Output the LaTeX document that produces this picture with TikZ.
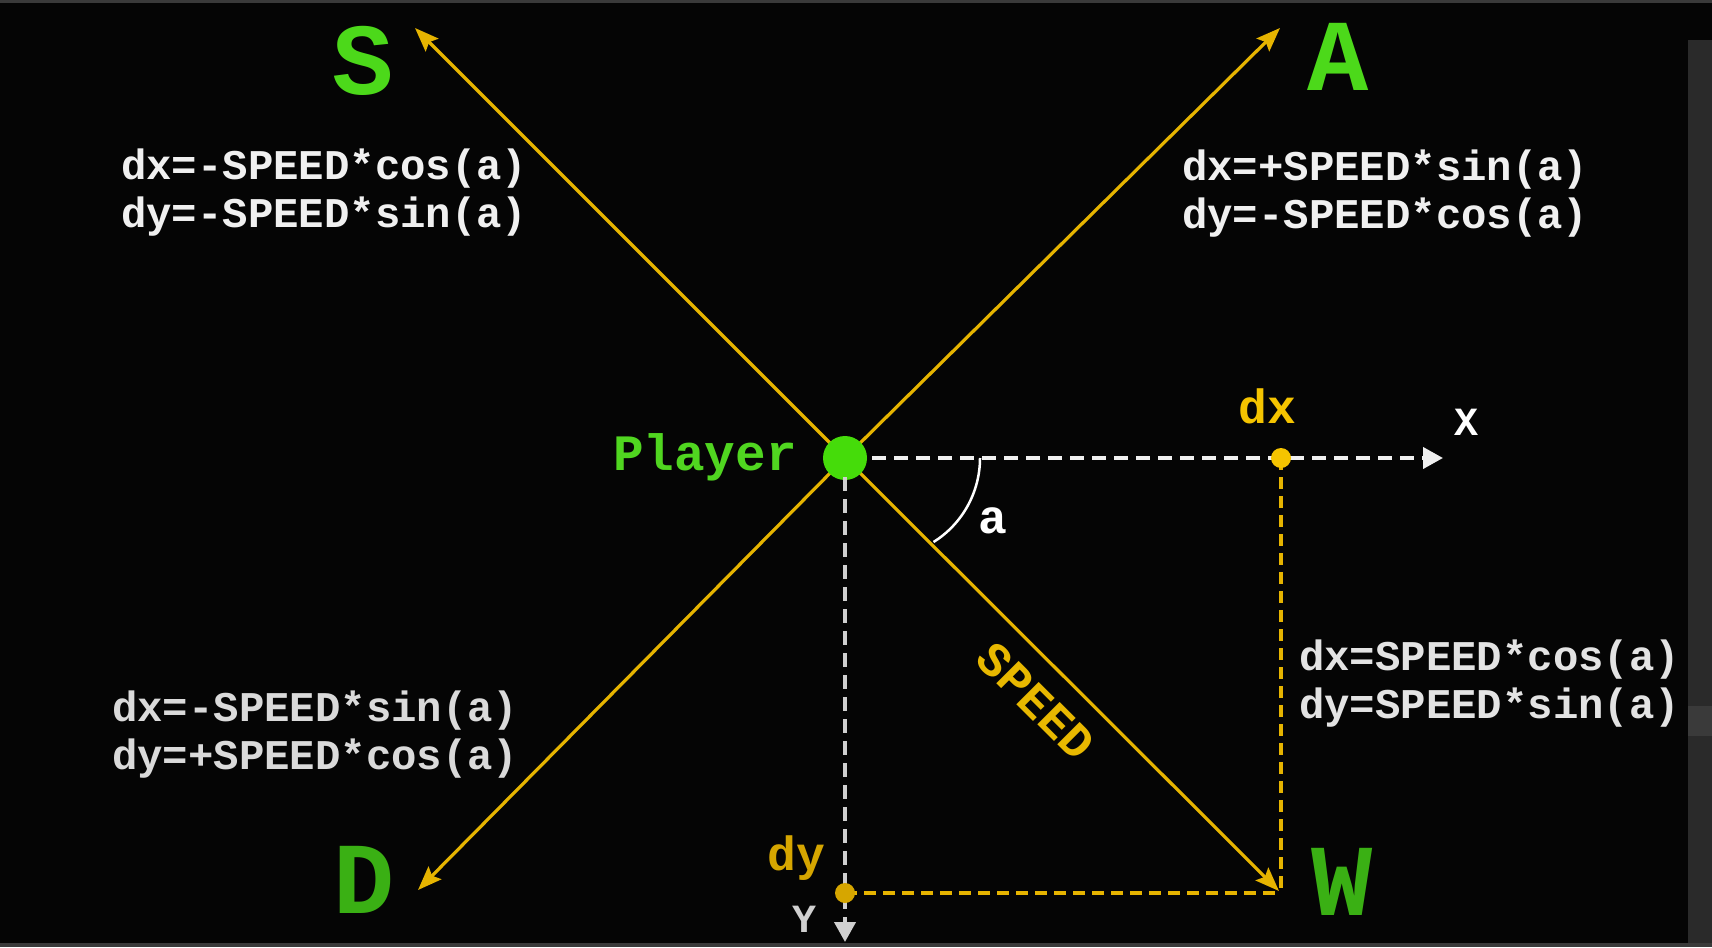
\documentclass[tikz,border=0pt]{standalone}
\usepackage{fontspec}
\usetikzlibrary{arrows.meta}
\newfontfamily\mono{Liberation Mono}
\definecolor{bgc}{HTML}{050505}
\definecolor{stripc}{HTML}{3A3A3A}
\definecolor{stripr}{HTML}{2A2A2A}
\definecolor{lineyel}{HTML}{E6B400}
\definecolor{dxyel}{HTML}{F5C400}
\definecolor{dyyel}{HTML}{D6A600}
\definecolor{spyel}{HTML}{E8B800}
\definecolor{gbright}{HTML}{4CD91A}
\definecolor{gdark}{HTML}{3AB014}
\definecolor{gplayer}{HTML}{50D620}
\definecolor{gdot}{HTML}{45DC0A}
\definecolor{fwhite}{HTML}{F0F0F0}
\definecolor{fgray}{HTML}{DADADA}
\definecolor{ygray}{HTML}{D0D0D0}
\begin{document}
\begin{tikzpicture}[x=1pt,y=-1pt,
  yl/.style={draw=lineyel, line width=3.2pt, -{Stealth[length=24pt,width=18pt,inset=4pt]}},
  axisw/.style={draw=fwhite, line width=4pt, dash pattern=on 14pt off 8pt, -{Triangle[length=20pt,width=21pt]}},
  ydash/.style={draw=lineyel, line width=3.5pt, dash pattern=on 12pt off 7pt},
  formula/.style={font=\mono\bfseries\fontsize{42.3pt}{48pt}\selectfont, inner sep=0pt, anchor=base west},
  big/.style={font=\mono\bfseries\fontsize{102pt}{110pt}\selectfont, inner sep=0pt, anchor=base},
  lbl/.style={font=\mono\bfseries\fontsize{48pt}{54pt}\selectfont, inner sep=0pt, anchor=base},
  axl/.style={font=\mono\bfseries\fontsize{40pt}{46pt}\selectfont, inner sep=0pt, anchor=base},
  dotn/.style={circle, inner sep=0pt, minimum size=20pt}
]
\useasboundingbox (0,0) rectangle (1712,947);
\fill[bgc] (0,0) rectangle (1712,947);
\fill[stripc] (0,0) rectangle (1712,3);
\fill[stripc] (0,943) rectangle (1712,947);
\fill[stripr] (1688,40) rectangle (1712,943);
\fill[stripc] (1688,706) rectangle (1712,736);

% key points
\coordinate (P0) at (845,458);
\coordinate (tS) at (415,28);
\coordinate (tA) at (1280,28);
\coordinate (tD) at (418,890);
\coordinate (tW) at (1279,891);
\coordinate (xEnd) at (1443,458);
\coordinate (yEnd) at (845,942);
\coordinate (dxc) at (1281,458);
\coordinate (dyc) at (845,893);
\coordinate (cr) at (1281,893);

% direction arrows
\draw[yl] (P0) -- (tS);
\draw[yl] (P0) -- (tA);
\draw[yl] (P0) -- (tD);
\draw[yl] (P0) -- (tW);

% player
\node[circle, fill=gdot, inner sep=0pt, minimum size=44pt] (P) at (P0) {};

% axes
\draw[axisw] ([xshift=5pt]P.east) -- (xEnd);
\draw[axisw, draw=ygray] ([yshift=3pt]P.south) -- (yEnd);

% projections
\draw[ydash] (dxc) -- (cr);
\draw[ydash] (dyc) -- (cr);
\node[dotn, fill=dxyel] (dxp) at (dxc) {};
\node[dotn, fill=dyyel] (dyp) at (dyc) {};

% angle arc
\draw[white, line width=2.5pt] (980,458) .. controls (980,492) and (962.4,524) .. (933.5,542);

% big letters
\node[big, text=gbright] (lS) at (363,95) {S};
\node[big, text=gbright] (lA) at (1338,91) {A};
\node[big, text=gdark] (lD) at (364,913) {D};
\node[big, text=gdark] (lW) at (1342,915) {W};

% labels
\node[lbl, text=gplayer, anchor=base east, font=\mono\bfseries\fontsize{51pt}{56pt}\selectfont] (lP) at (797,470) {Player};
\node[lbl, text=dxyel] (ldx) at (1267,423) {dx};
\node[lbl, text=dyyel] (ldy) at (796,870) {dy};
\node[lbl, text=white] (la) at (993,533) {a};
\node[axl, text=white] (lX) at (1466,435) {X};
\node[axl, text=ygray] (lY) at (804,932) {Y};
\node[lbl, text=spyel, font=\mono\bfseries\fontsize{48pt}{52pt}\selectfont, anchor=center, rotate=-45] (lsp) at (1036,701) {SPEED};

% formulas
\node[formula, text=fwhite] (fs1) at (121,179) {dx=-SPEED*cos(a)};
\node[formula, text=fwhite] (fs2) at (121,227) {dy=-SPEED*sin(a)};
\node[formula, text=fwhite] (fa1) at (1182,180) {dx=+SPEED*sin(a)};
\node[formula, text=fwhite] (fa2) at (1182,228) {dy=-SPEED*cos(a)};
\node[formula, text=fgray] (fd1) at (112,721) {dx=-SPEED*sin(a)};
\node[formula, text=fgray] (fd2) at (112,769) {dy=+SPEED*cos(a)};
\node[formula, text=fgray!60!fwhite] (fw1) at (1299,670) {dx=SPEED*cos(a)};
\node[formula, text=fgray!60!fwhite] (fw2) at (1299,718) {dy=SPEED*sin(a)};
\end{tikzpicture}
\end{document}
